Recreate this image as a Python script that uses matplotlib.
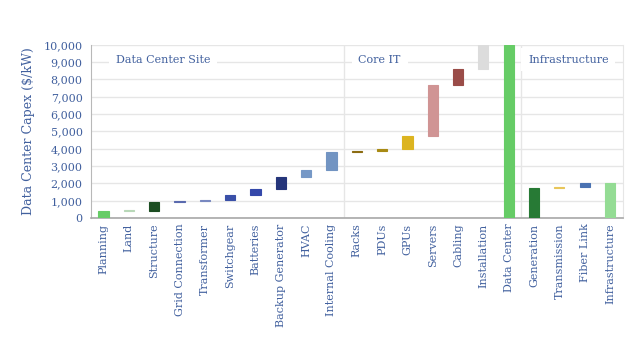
import matplotlib.pyplot as plt

categories = ["Planning", "Land", "Structure", "Grid Connection", "Transformer",
              "Switchgear", "Batteries", "Backup Generator", "HVAC", "Internal Cooling",
              "Racks", "PDUs", "GPUs", "Servers", "Cabling", "Installation",
              "Data Center", "Generation", "Transmission", "Fiber Link", "Infrastructure"]
low = [0, 400, 410, 900, 980, 1040, 1330, 1680, 2380, 2750,
       3800, 3890, 3990, 4710, 7700, 8580, 0, 0, 1710, 1800, 0]
high = [410, 470, 920, 1000, 1060, 1330, 1680, 2380, 2750, 3790,
        3870, 3990, 4710, 7700, 8580, 9980, 10000, 1710, 1800, 2020, 2020]
colors = ["#66cc66", "#b8d8b8", "#1c4d22", "#5a6aae", "#7888c0",
          "#3a50a8", "#3448aa", "#25357a", "#7698c6", "#7294c2",
          "#8c6c12", "#a88a14", "#dcb420", "#d09494", "#9a4c48", "#dcdcdc",
          "#66cc66", "#277a35", "#e8c65a", "#4a72b2", "#94dc94"]
sections = ["Data Center Site", "Core IT", "Infrastructure"]
section_x = [2.35, 10.9, 18.35]
section_breaks = [9.5, 16.5]

txt = "#41609e"
plt.rcParams["font.family"] = ["DejaVu Serif"]

fig = plt.figure(figsize=(6.4, 3.45), dpi=100)
ax = fig.add_axes([0.142, 0.368, 0.831, 0.502])

x = range(len(categories))
heights = [h - l for l, h in zip(low, high)]
ax.bar(x, heights, bottom=low, width=0.4, color=colors, edgecolor=colors,
       linewidth=0.8, zorder=3)

ax.set_xlim(-0.5, 20.5)
ax.set_ylim(0, 10000)
ax.set_yticks(range(0, 10001, 1000))
ax.set_yticklabels([f"{v:,}" for v in range(0, 10001, 1000)])
ax.yaxis.grid(True, color="#e6e6e6", lw=1.0, zorder=0)
for b in section_breaks:
    ax.axvline(b, color="#e6e6e6", lw=1.0, zorder=1)

ax.spines["top"].set_visible(False)
ax.spines["right"].set_color("#e6e6e6")
ax.spines["left"].set_color("#b8b8b8")
ax.spines["bottom"].set_color("#a8a8a8")
ax.spines["bottom"].set_linewidth(1.2)

ax.set_xticks(list(x))
ax.set_xticklabels(categories, rotation=90, fontsize=8, color=txt)
ax.tick_params(axis="y", length=0, labelsize=8, labelcolor=txt, pad=6)
ax.tick_params(axis="x", length=0, pad=4)
ax.set_ylabel("Data Center Capex ($/kW)", fontsize=9, color=txt, labelpad=6)

for name, sx in zip(sections, section_x):
    ax.text(sx, 9150, name, ha="center", va="center", fontsize=8, color=txt,
            zorder=4, bbox=dict(facecolor="white", edgecolor="none", pad=5))

fig.savefig("out.png", dpi=100)
